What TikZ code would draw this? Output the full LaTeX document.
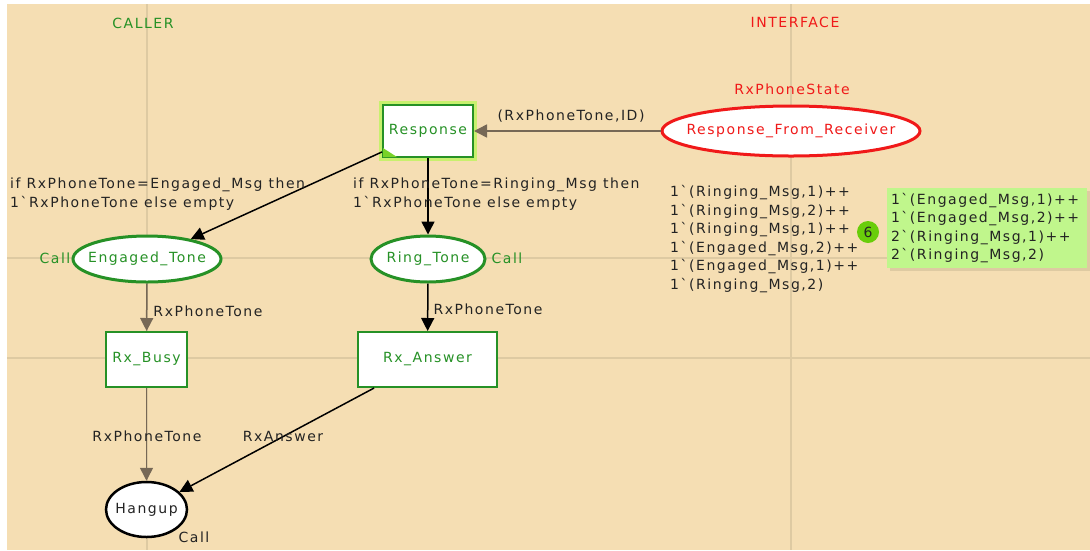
\documentclass[tikz,border=0pt]{standalone}
\usepackage{fontspec}
\setmainfont{DejaVu Sans}[LetterSpace=11]
\usetikzlibrary{arrows.meta,shapes.geometric}

\definecolor{paper}{RGB}{245,222,179}
\definecolor{gridtan}{RGB}{222,202,162}
\definecolor{cpngreen}{RGB}{38,145,38}
\definecolor{cpnred}{RGB}{240,25,25}
\definecolor{glow}{RGB}{200,240,110}
\definecolor{cornergreen}{RGB}{120,210,40}
\definecolor{markfill}{RGB}{192,246,140}
\definecolor{tokgreen}{RGB}{105,205,10}
\definecolor{arcgrey}{RGB}{118,104,86}
\definecolor{ink}{RGB}{35,35,35}

\newcommand{\bkq}{\char"02CB\relax}

\tikzset{
  trans/.style={draw=cpngreen, line width=2pt, fill=white, text=cpngreen,
    minimum width=#1, minimum height=55pt, inner sep=0pt},
  place/.style={ellipse, draw=cpngreen, line width=3pt, fill=white,
    minimum width=#1, minimum height=46pt, inner sep=0pt},
  arc/.style={->, line width=1.5pt, draw=black},
  greyarc/.style={arc, draw=arcgrey},
  inscr/.style={text=ink, inner sep=0pt},
  gridline/.style={draw=gridtan, line width=1.5pt}
}

\begin{document}
\begin{tikzpicture}[x=1pt, y=-1pt, >={Triangle[length=13pt,width=13pt]},
  font=\fontsize{14}{18.5}\selectfont]
\useasboundingbox (0,0) rectangle (1090,550);
% page background and grid
\fill[white] (0,0) rectangle (1090,550);
\fill[paper] (7,4) rectangle (1090,550);
\draw[gridline] (147,4) -- (147,550);
\draw[gridline] (791,4) -- (791,550);
\draw[gridline] (7,258) -- (1090,258);
\draw[gridline] (7,358) -- (1090,358);
\node[text=cpngreen] (caller) at (143,23) {CALLER};
\node[text=cpnred] (iface) at (795,22) {INTERFACE};
% places and transitions
\node[trans=90pt, minimum height=52pt, preaction={draw=glow, line width=8pt}]
  (resp) at (428,131) {Response};
\fill[cornergreen] (resp.south west) ++(1,-1) -- ++(14,0) -- ++(-14,-9) -- cycle;
\node[place=258pt, minimum height=50pt, draw=cpnred,
  label={[cpnred]center:Response\_From\_Receiver}] (recv) at (791,131) {};
\node[text=cpnred] (recvtype) at (792,89) {RxPhoneState};
\node[place=148pt, label={[cpngreen]center:Engaged\_Tone}] (engaged) at (147,259) {};
\node[text=cpngreen] (engtype) at (55,258) {Call};
\node[place=114pt, label={[cpngreen]center:Ring\_Tone}] (ring) at (428,259) {};
\node[text=cpngreen] (ringtype) at (507,258) {Call};
\node[trans=81pt] (busy) at (146.5,359.5) {Rx\_Busy};
\node[trans=139pt] (answer) at (427.5,359.5) {Rx\_Answer};
\node[place=81pt, minimum height=55pt, draw=black, line width=2.5pt,
  label={[ink]center:Hangup}] (hangup) at (146.5,509.5) {};
\node[text=ink] (hangtype) at (194,537) {Call};
% arcs
\draw[greyarc] (recv) -- (resp);
\draw[arc] (resp) -- (engaged);
\draw[arc] (resp) -- (ring);
\draw[greyarc] (engaged) -- (busy);
\draw[arc] (ring) -- (answer);
\draw[greyarc] (busy) -- (hangup);
\draw[arc] (answer) -- (hangup);
% arc inscriptions
\node[inscr] (i1) at (571,116) {(RxPhoneTone,ID)};
\node[inscr, anchor=west, align=left] (i2) at (10,194)
  {if RxPhoneTone=Engaged\_Msg then\\1\bkq RxPhoneTone else empty};
\node[inscr, anchor=west, align=left] (i3) at (353,194)
  {if RxPhoneTone=Ringing\_Msg then\\1\bkq RxPhoneTone else empty};
\node[inscr] (i4) at (208,311) {RxPhoneTone};
\node[inscr] (i5) at (488,309) {RxPhoneTone};
\node[inscr] (i6) at (147,436) {RxPhoneTone};
\node[inscr] (i7) at (283,436) {RxAnswer};
% initial and current marking
\node[inscr, anchor=west, align=left] (init) at (670,239)
  {1\bkq(Ringing\_Msg,1)++\\1\bkq(Ringing\_Msg,2)++\\1\bkq(Ringing\_Msg,1)++\\
   1\bkq(Engaged\_Msg,2)++\\1\bkq(Engaged\_Msg,1)++\\1\bkq(Ringing\_Msg,2)};
\node[circle, fill=tokgreen, minimum size=22pt, inner sep=0pt, text=ink] (count) at (868,232) {6};
\fill[gridtan] (890,191) rectangle (1090,271);
\node[fill=markfill, minimum width=200pt, minimum height=80pt, text width=192pt,
  inner xsep=4pt, inner ysep=0pt, align=left, text=ink] (mark) at (987,228)
  {1\bkq(Engaged\_Msg,1)++\\1\bkq(Engaged\_Msg,2)++\\2\bkq(Ringing\_Msg,1)++\\2\bkq(Ringing\_Msg,2)};
\end{tikzpicture}
\end{document}
